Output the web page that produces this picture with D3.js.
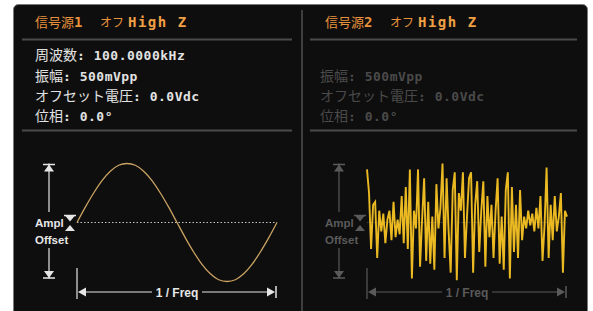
<!DOCTYPE html>
<html>
<head>
<meta charset="utf-8">
<script src="https://cdn.jsdelivr.net/npm/d3@7"></script>
<style>
body { margin: 0; background: #fff; }
</style>
</head>
<body>
<script>
// channel headers
const channelNames = ["信号源1", "信号源2"];
const outputState = "オフ";
const loadName = "High Z";

// parameter rows
const paramLabels = ["周波数", "振幅", "オフセット電圧", "位相"];
const ch1Params = ["100.0000kHz", "500mVpp", "0.0Vdc", "0.0°"];
const ch2Params = [null, "500mVpp", "0.0Vdc", "0.0°"];

// one period of channel 1 (sine), read at 24 steps
const sineValues = [0, 0.26, 0.5, 0.71, 0.87, 0.97, 1, 0.97, 0.87, 0.71, 0.5, 0.26, 0,
                    -0.26, -0.5, -0.71, -0.87, -0.97, -1, -0.97, -0.87, -0.71, -0.5, -0.26, 0];

// channel 2 noise left to right
const noiseValues = [0.9, 0.5, -0.45, 0.3, 0.35, -0.6, 0.2, -0.15, 0.15, -0.35, 0.05, 0.2, -0.3, 0.35,
                     -0.25, 0.05, -0.2, 0.45, -0.35, 0.6, -0.45, 0.9, -0.95, 0.2, -0.1, 0.9, -0.75, 0.05,
                     0.75, -0.65, 0.35, -0.7, 0.1, -0.8, 0.65, -0.1, 0.25, 1.0, -0.6, 0.75, -0.15, -0.85,
                     0.55, 0.85, -0.98, 0.5, 0.2, 0.85, -0.6, 0.1, 0.75, 0.85, -0.85, 0.3, 0.7, -0.5, 0.2,
                     0.7, -0.75, 0.45, -0.25, 0.3, -0.6, 0.2, 0.75, -0.7, 0.1, -0.8, 0.55, 0.85, -0.95, 0.6,
                     -0.5, 0.3, -0.6, 0.55, -0.3, 0.1, -0.1, 0.2, -0.05, 0.15, -0.15, 0.25, -0.1, 0.45,
                     -0.65, -0.05, 0.93, -0.6, 0.3, -0.3, 0.45, -0.15, 0.1, 0.5, -0.85, 0.2, 0.1];

const W = 593, H = 311;
const cjk = "'Noto Sans CJK JP', sans-serif";
const mono = "'DejaVu Sans Mono', monospace";
const sans = "'Liberation Sans', Arial, sans-serif";
const orange = "#e8923c";

const svg = d3.select("body").append("svg").attr("width", W).attr("height", H);

// instrument screen frame
svg.append("rect")
   .attr("x", 13.5).attr("y", 4.5)
   .attr("width", 574).attr("height", 340)
   .attr("rx", 5)
   .attr("fill", "#0e0e0e")
   .attr("stroke", "#7a7a7a");

svg.append("line")
   .attr("x1", 302).attr("x2", 302)
   .attr("y1", 10).attr("y2", H)
   .attr("stroke", "#3e3e3e").attr("stroke-width", 2);

const panels = [
  {dx: 0, name: channelNames[0], params: ch1Params, text: "#e2e2e2", anno: "#e6e6e6",
   titleX: 35, textX: 35, sepX: [22, 292]},
  {dx: 290, name: channelNames[1], params: ch2Params, text: "#4a4a4a", anno: "#5a5a5a",
   titleX: 325, textX: 320, sepX: [310, 577]}
];

const rowY = [60, 80.5, 101, 121];

panels.forEach((p, pi) => {
  const g = svg.append("g");

  // title
  const title = g.append("text").attr("x", p.titleX).attr("y", 26.5).attr("fill", orange);
  title.append("tspan").attr("font-family", cjk).attr("font-size", 13).text(p.name.slice(0, 3));
  title.append("tspan").attr("font-family", mono).attr("font-weight", "bold").attr("font-size", 14)
       .text(p.name.slice(3));
  title.append("tspan").attr("x", p.titleX + 65).attr("font-family", cjk).attr("font-size", 12).text(outputState);
  title.append("tspan").attr("x", p.titleX + 93).attr("font-family", mono).attr("font-weight", "bold")
       .attr("font-size", 14).attr("letter-spacing", 1.5).attr("fill", "#f0a045").text(loadName);

  // separators
  [39.5, 130.5].forEach(y => {
    g.append("line").attr("x1", p.sepX[0]).attr("x2", p.sepX[1]).attr("y1", y).attr("y2", y)
     .attr("stroke", "#4a4a4a").attr("stroke-width", 2);
  });

  // parameter rows
  p.params.forEach((v, i) => {
    if (v === null) return;
    const t = g.append("text").attr("x", p.textX).attr("y", rowY[i]).attr("fill", p.text);
    t.append("tspan").attr("font-family", cjk).attr("font-size", 14).text(paramLabels[i]);
    t.append("tspan").attr("font-family", mono).attr("font-weight", "bold").attr("font-size", 13)
     .attr("letter-spacing", 0.5).text(": " + v);
  });

  // waveform area scales
  const x = d3.scaleLinear().domain([0, 1]).range([77 + p.dx, 277 + p.dx]);
  const y = d3.scaleLinear().domain([-1, 1]).range([281.5, 163.5]);
  const yMid = y(0);
  const c = p.anno;

  // dotted offset line
  g.append("line").attr("x1", x(0)).attr("x2", x(1)).attr("y1", yMid).attr("y2", yMid)
   .attr("stroke", pi === 0 ? "#c4c4c4" : "#444").attr("stroke-dasharray", "1.5,2");

  // amplitude marker
  const ax = 49 + p.dx;
  g.append("line").attr("x1", ax).attr("x2", ax).attr("y1", y(1)).attr("y2", 212).attr("stroke", c).attr("stroke-width", 1.2);
  g.append("line").attr("x1", ax).attr("x2", ax).attr("y1", 248).attr("y2", y(-1) - 3).attr("stroke", c).attr("stroke-width", 1.2);
  const tri = (pts) => g.append("path").attr("d", "M" + pts.join("L") + "Z").attr("fill", c);
  const bar = (x1, x2, yy) => g.append("line").attr("x1", x1).attr("x2", x2).attr("y1", yy).attr("y2", yy)
                                .attr("stroke", c).attr("stroke-width", 1.5);
  bar(ax - 6, ax + 6, y(1) + 1);
  tri([[ax, y(1) + 1], [ax - 5, y(1) + 8], [ax + 5, y(1) + 8]]);
  bar(ax - 6, ax + 6, y(-1) - 3.5);
  tri([[ax, y(-1) - 3.5], [ax - 5, y(-1) - 10.5], [ax + 5, y(-1) - 10.5]]);

  // offset marker
  const ox = 70 + p.dx;
  bar(ox - 6, ox + 6, 215.5);
  tri([[ox - 5, 215.5], [ox + 5, 215.5], [ox, 221.5]]);
  tri([[ox, 225], [ox - 5, 231], [ox + 5, 231]]);

  g.append("text").attr("x", 35 + p.dx).attr("y", yMid + 4.5).attr("fill", c)
   .attr("font-family", sans).attr("font-weight", "bold").attr("font-size", 11.5)
   .text("Ampl");
  g.append("text").attr("x", 35 + p.dx).attr("y", 243.5).attr("fill", c)
   .attr("font-family", sans).attr("font-weight", "bold").attr("font-size", 11.5)
   .text("Offset");

  // period marker
  const py = 292;
  g.append("line").attr("x1", x(0)).attr("x2", x(0)).attr("y1", 268).attr("y2", 299).attr("stroke", c).attr("stroke-width", 1.2);
  g.append("line").attr("x1", x(1) - 1).attr("x2", x(1) - 1).attr("y1", 286).attr("y2", 298).attr("stroke", c).attr("stroke-width", 1.5);
  tri([[x(0) + 1, py], [x(0) + 9, py - 4.5], [x(0) + 9, py + 4.5]]);
  tri([[x(1) - 2, py], [x(1) - 10, py - 4.5], [x(1) - 10, py + 4.5]]);
  const mid = (x(0) + x(1)) / 2;
  g.append("line").attr("x1", x(0) + 8).attr("x2", mid - 25).attr("y1", py).attr("y2", py).attr("stroke", c).attr("stroke-width", 1.2);
  g.append("line").attr("x1", mid + 25).attr("x2", x(1) - 9).attr("y1", py).attr("y2", py).attr("stroke", c).attr("stroke-width", 1.2);
  g.append("text").attr("x", mid).attr("y", py + 4.5).attr("text-anchor", "middle").attr("fill", c)
   .attr("font-family", sans).attr("font-weight", "bold").attr("font-size", 12)
   .text("1 / Freq");

  // waveform
  if (pi === 0) {
    const xs = d3.scaleLinear().domain([0, sineValues.length - 1]).range(x.range());
    g.append("path")
     .attr("fill", "none").attr("stroke", "#c9a262").attr("stroke-width", 1.3)
     .attr("d", d3.line().x((d, i) => xs(i)).y(d => y(d)).curve(d3.curveCardinal)(sineValues));
  } else {
    const xs = d3.scaleLinear().domain([0, noiseValues.length - 1]).range(x.range());
    g.append("path")
     .attr("fill", "none").attr("stroke", "#ebba22").attr("stroke-width", 1.9)
     .attr("d", d3.line().x((d, i) => xs(i)).y(d => y(d))(noiseValues));
  }
});
</script>
</body>
</html>
